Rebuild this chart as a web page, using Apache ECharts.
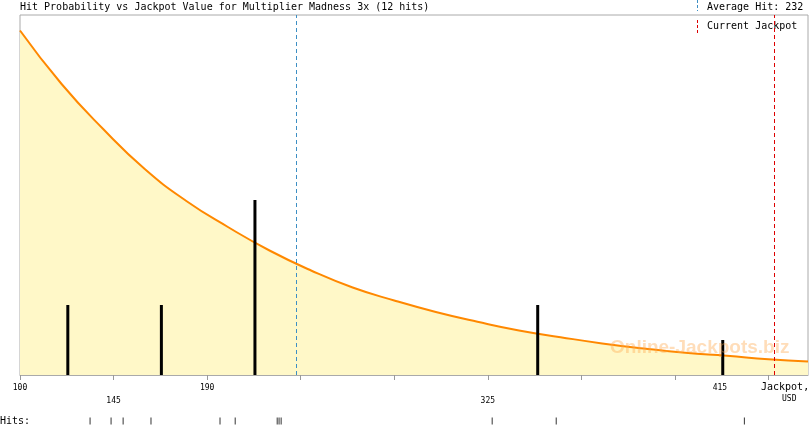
<!DOCTYPE html>
<html>
<head>
<meta charset="utf-8">
<script src="https://cdn.jsdelivr.net/npm/echarts@6/dist/echarts.min.js"></script>
<style>
  html, body { margin: 0; padding: 0; background: #fff; }
  #main { width: 810px; height: 425px; }
</style>
</head>
<body>
<div id="main"></div>
<script>
// curve (relative probability, plot height = 360)
const curveX = [100, 120, 140, 160, 180, 200, 220, 240, 260, 280, 300, 320, 340, 360, 380, 400, 420, 440, 460, 479]
const curveY = [344.5, 291, 246, 206, 174, 148, 124.5, 104.5, 87.5, 74.5, 63, 53.2, 44.5, 37.8, 31.6, 26.5, 22.2, 19.2, 15.8, 13.5]

// histogram of hits (bar positions as read)
const binCenters = [123, 168, 213, 349, 438]
const binCounts = [2, 2, 5, 2, 1]

// individual hits (jackpot value when hit)
const hits = [133.7, 143.8, 149.6, 163.0, 196.2, 203.5, 223.7, 224.6, 225.6, 327.1, 357.9, 448.4]

const tickValues = [100, 145, 190, 235, 280, 325, 370, 415, 460]
const labelValues = [100, 145, 190, 325, 415]
const lowerLabels = [145, 325]
const shiftedLabels = [415]

const averageHit = 232
const currentJackpot = 463

const mono = "DejaVu Sans Mono"
const xMin = 100
const xMax = 479

const meanHit = hits.reduce((a, b) => a + b, 0) / hits.length

const chart = echarts.init(document.getElementById("main"), null, { renderer: "canvas" })

chart.setOption({
  animation: false,
  backgroundColor: "#fff",
  title: {
    text: "Hit Probability vs Jackpot Value for Multiplier Madness 3x (12 hits)",
    left: 20,
    top: 2,
    padding: 0,
    textStyle: { fontFamily: mono, fontSize: 10, fontWeight: "normal", color: "#000" }
  },
  grid: [
    { left: 20, right: 2, top: 15, bottom: 50, show: true, borderColor: "#aaa", borderWidth: 1, backgroundColor: "#fff" },
    { left: 20, right: 2, top: 417, height: 8 }
  ],
  xAxis: [
    {
      type: "value", min: xMin, max: xMax, gridIndex: 0,
      splitLine: { show: false },
      axisLine: { lineStyle: { color: "#aaa" } },
      axisTick: { length: 5, lineStyle: { color: "#999" }, customValues: tickValues },
      axisLabel: {
        customValues: labelValues,
        margin: 8,
        fontFamily: mono, fontSize: 8, color: "#000",
        formatter: (v) => {
          if (lowerLabels.includes(v)) return `{b|${v}}`
          if (shiftedLabels.includes(v)) return `{c|${v}}`
          return `{a|${v}}`
        },
        rich: {
          a: { fontFamily: mono, fontSize: 8, lineHeight: 9 },
          b: { fontFamily: mono, fontSize: 8, lineHeight: 9, padding: [26, 0, 0, 0] },
          c: { fontFamily: mono, fontSize: 8, lineHeight: 9, padding: [0, 0, 0, 90] }
        }
      }
    },
    { type: "value", min: xMin, max: xMax, gridIndex: 1, show: false }
  ],
  yAxis: [
    { type: "value", min: 0, max: 360, gridIndex: 0, show: false, splitLine: { show: false } },
    { type: "value", min: 0, max: 360 / 35, gridIndex: 0, show: false, splitLine: { show: false } },
    { type: "value", min: 0, max: 1, gridIndex: 1, show: false }
  ],
  series: [
    {
      type: "line",
      xAxisIndex: 0, yAxisIndex: 0,
      data: curveX.map((x, i) => [x, curveY[i]]),
      smooth: true,
      symbol: "none",
      lineStyle: { color: "#ff8800", width: 2 },
      areaStyle: { color: "#fff8c8", opacity: 1 },
      z: 2,
      markLine: {
        silent: true,
        symbol: "none",
        label: { show: false },
        data: [
          { xAxis: meanHit, lineStyle: { color: "#3d8fc4", type: [4, 3], width: 1 } },
          { xAxis: currentJackpot, lineStyle: { color: "#dd0000", type: [4, 3], width: 1 } }
        ]
      }
    },
    {
      type: "bar",
      xAxisIndex: 0, yAxisIndex: 1,
      data: binCenters.map((x, i) => [x, binCounts[i]]),
      barWidth: 3,
      itemStyle: { color: "#000" },
      z: 3
    },
    {
      type: "scatter",
      xAxisIndex: 1, yAxisIndex: 2,
      data: hits.map((h) => [h, 0.5]),
      symbol: "rect",
      symbolSize: [1, 7],
      itemStyle: { color: "#000" }
    }
  ],
  graphic: [
    { type: "line", shape: { x1: 697.5, y1: 0, x2: 697.5, y2: 11 }, style: { stroke: "#3d8fc4", lineWidth: 1, lineDash: [3, 2] } },
    { type: "text", left: 707, top: 2, style: { text: "Average Hit: " + averageHit, font: `10px "${mono}"`, fill: "#000" } },
    { type: "line", shape: { x1: 697.5, y1: 20, x2: 697.5, y2: 33 }, style: { stroke: "#dd0000", lineWidth: 1, lineDash: [3, 2] } },
    { type: "text", left: 707, top: 21, style: { text: "Current Jackpot", font: `10px "${mono}"`, fill: "#000" }, z: 1 },
    { type: "text", left: 761, top: 382, style: { text: "Jackpot,", font: `10px "${mono}"`, fill: "#000" } },
    { type: "text", left: 782, top: 395, style: { text: "USD", font: `8px "${mono}"`, fill: "#000" } },
    { type: "text", left: 0, top: 416, style: { text: "Hits:", font: `10px "${mono}"`, fill: "#000" } },
    { type: "text", left: 610, top: 338, z: 100, style: { text: "Online-Jackpots.biz", font: 'bold 19px "Liberation Sans"', fill: "rgba(255,170,80,0.4)" } }
  ]
})
</script>
</body>
</html>
